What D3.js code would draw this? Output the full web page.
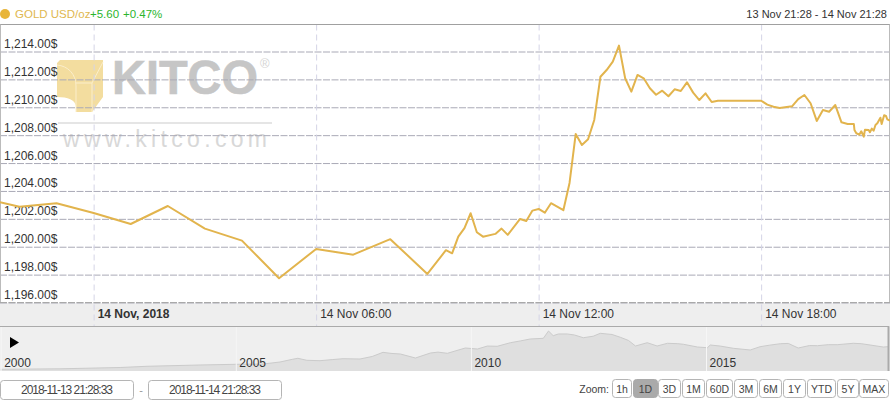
<!DOCTYPE html>
<html>
<head>
<meta charset="utf-8">
<script src="https://cdn.jsdelivr.net/npm/d3@7/dist/d3.min.js"></script>
<style>
html,body{margin:0;padding:0;background:#fff;overflow:hidden}
svg{display:block;font-family:"Liberation Sans",Arial,sans-serif}
</style>
</head>
<body>
<div id="chart"></div>
<script>
// Main series: minutes relative to 14 Nov 00:00, and USD/oz
const minutes = [-151.5,-120,-60,0,60,120,180,240,300,360,420,480,540,570,580,590,600,610,620,630,650,660,670,690,700,710,720,730,740,760,770,780,790,800,810,820,830,840,850,860,870,880,890,900,910,920,930,940,950,960,970,980,990,1000,1010,1080,1090,1100,1110,1130,1140,1150,1160,1170,1180,1190,1200,1210,1220,1230,1231,1234,1239,1242,1246,1248,1254,1256,1259,1262,1265,1268,1273,1275,1279,1282,1284,1288.5];
const prices = [1203.19,1202.87,1203.12,1202.42,1201.63,1202.92,1201.30,1200.44,1197.74,1199.84,1199.43,1200.54,1198.05,1199.75,1199.53,1200.72,1201.33,1202.40,1201.04,1200.72,1200.92,1201.30,1200.85,1201.99,1201.85,1202.59,1202.71,1202.44,1203.12,1202.62,1204.57,1208.09,1207.30,1207.71,1209.09,1212.19,1212.67,1213.27,1214.42,1212.08,1211.12,1212.32,1212.08,1211.36,1210.90,1211.19,1210.79,1211.29,1211.17,1211.79,1211.05,1210.52,1211.00,1210.38,1210.47,1210.47,1210.19,1210.04,1209.95,1210.07,1210.59,1210.88,1210.29,1209.02,1209.81,1209.68,1210.16,1208.92,1208.80,1208.80,1208.37,1208.14,1208.04,1208.28,1207.89,1208.39,1208.37,1208.21,1208.47,1208.32,1208.73,1208.85,1209.25,1208.80,1209.43,1209.38,1209.14,1209.04];
const priceTicks = [1196,1198,1200,1202,1204,1206,1208,1210,1212,1214];
const timeTicks = [0,360,720,1080];
const timeLabels = ["14 Nov, 2018","14 Nov 06:00","14 Nov 12:00","14 Nov 18:00"];

// Navigator series: decimal year and USD/oz
const navYears = [2000,2001.26,2002.54,2003.11,2004.24,2005,2005.58,2005.94,2006.2,2006.32,2006.51,2006.79,2007.05,2007.28,2007.64,2007.9,2008.13,2008.3,2008.5,2008.82,2009.14,2009.3,2009.5,2009.88,2010.14,2010.35,2010.56,2010.84,2011.05,2011.26,2011.54,2011.65,2011.75,2011.86,2012.05,2012.2,2012.39,2012.6,2012.75,2013.0,2013.18,2013.35,2013.5,2013.75,2013.96,2014.18,2014.4,2014.52,2014.82,2015.03,2015.09,2015.3,2015.58,2015.94,2016.15,2016.35,2016.58,2016.75,2016.96,2017.2,2017.37,2017.6,2017.79,2018.13,2018.3,2018.49,2018.77,2018.87];
const navPrices = [260,280,332,381,433,461,473,553,660,702,622,606,650,686,674,775,943,900,875,714,915,950,903,1116,1076,1195,1185,1329,1400,1478,1506,1800,1611,1680,1680,1640,1530,1590,1707,1660,1546,1420,1197,1329,1197,1305,1290,1265,1156,1128,1237,1195,1104,1036,1169,1230,1289,1300,1116,1215,1209,1250,1249,1305,1290,1237,1156,1169];
const navTicks = [2000,2005,2010,2015];

const rangeButtons = ["1h","1D","3D","1M","60D","3M","6M","1Y","YTD","5Y","MAX"];
const rangeEdges = [[612,631],[633,657],[658,680],[682,704],[706,732],[734,757],[759,781],[783,805],[807,835],[837,858],[859,888]];
const activeRange = "1D";
const dateInputs = ["2018-11-13 21:28:33","2018-11-14 21:28:33"];

const W = 890, H = 400;
const base = Date.UTC(2018,10,14);
const toDate = m => new Date(base + m*60000);
const x = d3.scaleUtc().domain([toDate(-151.5),toDate(1288.5)]).range([0,W]);
const y = d3.scaleLinear().domain([1196,1214]).range([302.5,51.5]);
const navX = d3.scaleLinear().domain([2000,2018.87]).range([0.7,888]);
const navY = d3.scaleLinear().domain([260,1800]).range([369.3,331]);

const svg = d3.select("#chart").append("svg").attr("width",W).attr("height",H);

// Axis and navigator bands
svg.append("rect").attr("x",0).attr("y",303).attr("width",W).attr("height",23).attr("fill","#eeeeee");
svg.append("rect").attr("x",0).attr("y",327).attr("width",W).attr("height",44).attr("fill","#efefef");

// Watermark
const wm = svg.append("g");
wm.append("path").attr("d","M60,60 L103,60 L103,97 L92,112 L76,112 L76,106 C75,100 68,97 57,97 L57,63 Z").attr("fill","#f3dd9f");
wm.append("path").attr("d","M57,65 C68,66 76,74 76,86 L76,112 M76,83 L92,83 L92,112 M92,83 L103,62").attr("fill","none").attr("stroke","#fbeecb").attr("stroke-width",1);
wm.append("text").attr("x",112).attr("y",94).attr("font-size",48).attr("font-weight","bold").attr("fill","#c6c6c6").attr("stroke","#c6c6c6").attr("stroke-width",0.6).attr("textLength",146).attr("lengthAdjust","spacingAndGlyphs").text("KITCO");
wm.append("text").attr("x",260).attr("y",68).attr("font-size",13).attr("fill","#d4d4d4").text("®");
wm.append("line").attr("x1",58).attr("x2",272).attr("y1",123).attr("y2",123).attr("stroke","#dcdcdc").attr("stroke-width",1.5);
wm.append("text").attr("x",63).attr("y",147).attr("font-size",23).attr("fill","#d8d8d8").attr("textLength",204).text("www.kitco.com");

// Horizontal grid with inside labels
const yAxis = d3.axisRight(y).tickValues(priceTicks).tickSize(W).tickFormat(d => d3.format(",.2f")(d)+"$");
const gy = svg.append("g").call(yAxis);
gy.select(".domain").remove();
gy.selectAll("line").attr("stroke","#a9a9b6").attr("stroke-dasharray","7,1.5").attr("stroke-width",1);
gy.selectAll("text").attr("x",4).attr("dy",0).attr("y",-4).attr("font-size",12).attr("fill","#333").attr("font-family","Liberation Sans, Arial, sans-serif");

// Vertical grid and time labels
const xAxis = d3.axisBottom(x).tickValues(timeTicks.map(toDate)).tickSize(0).tickFormat((d,i)=>timeLabels[i]);
const gx = svg.append("g").attr("transform","translate(0,0)").call(xAxis);
gx.select(".domain").remove();
gx.selectAll("line").attr("y1",24.5).attr("y2",326).attr("stroke","#d4d4e6").attr("stroke-dasharray","6,4").attr("stroke-width",1);
gx.selectAll("text").attr("x",3.5).attr("y",318).attr("dy",0).attr("text-anchor","start").attr("font-size",12).attr("fill","#333")
  .attr("font-family","Liberation Sans, Arial, sans-serif").attr("font-weight",(d,i)=>i===0?"bold":"normal");

// Frame lines
svg.append("line").attr("x1",0).attr("x2",W).attr("y1",24.5).attr("y2",24.5).attr("stroke","#a0a0a0");
svg.append("line").attr("x1",0.5).attr("x2",0.5).attr("y1",24.5).attr("y2",303).attr("stroke","#bbb");
svg.append("line").attr("x1",889.5).attr("x2",889.5).attr("y1",24.5).attr("y2",303).attr("stroke","#bbb");
svg.append("line").attr("x1",0).attr("x2",W).attr("y1",302.5).attr("y2",302.5).attr("stroke","#a9a9a9").attr("stroke-dasharray","7,1.5");
svg.append("line").attr("x1",0).attr("x2",889).attr("y1",326.5).attr("y2",326.5).attr("stroke","#aaa").attr("stroke-width",1);

// Main line
const line = d3.line().x((d,i)=>x(toDate(minutes[i]))).y(d=>y(d));
svg.append("path").datum(prices).attr("d",line).attr("fill","none").attr("stroke","#e2b44d").attr("stroke-width",2).attr("stroke-linejoin","round");

// Navigator
const navArea = d3.area().x((d,i)=>navX(navYears[i])).y0(371).y1(d=>navY(d));
const navLine = d3.line().x((d,i)=>navX(navYears[i])).y(d=>navY(d));
svg.append("path").datum(navPrices).attr("d",navArea).attr("fill","#dfdfdf");
svg.append("path").datum(navPrices).attr("d",navLine).attr("fill","none").attr("stroke","#cbcbcb").attr("stroke-width",1);
const gn = svg.append("g").attr("transform","translate(0,327)").call(d3.axisBottom(navX).tickValues(navTicks).tickSize(44).tickFormat(d3.format("d")));
gn.select(".domain").remove();
gn.selectAll("line").attr("stroke","#f6f6f6").attr("stroke-width",1);
gn.selectAll("text").attr("x",3).attr("y",40).attr("dy",0).attr("text-anchor","start").attr("font-size",12).attr("fill","#333").attr("font-family","Liberation Sans, Arial, sans-serif");
svg.append("line").attr("x1",888.5).attr("x2",888.5).attr("y1",326).attr("y2",371).attr("stroke","#aaa").attr("stroke-width",2);
svg.append("path").attr("d","M10,337 L19,342.5 L10,348 Z").attr("fill","#000");

// Header
svg.append("circle").attr("cx",5).attr("cy",14).attr("r",5).attr("fill","#e8b53a");
svg.append("text").attr("x",15).attr("y",18).attr("font-size",11.5).attr("fill","#e0b850").text("GOLD USD/oz");
svg.append("text").attr("x",90).attr("y",18).attr("font-size",11.5).attr("fill","#2cb52c").text("+5.60");
svg.append("text").attr("x",123).attr("y",18).attr("font-size",11.5).attr("fill","#2cb52c").text("+0.47%");
svg.append("text").attr("x",887).attr("y",18).attr("text-anchor","end").attr("font-size",11).attr("fill","#333").text("13 Nov 21:28 - 14 Nov 21:28");

// Date inputs
const inputs = svg.append("g").selectAll("g").data(dateInputs).join("g").attr("transform",(d,i)=>`translate(${i===0?0.5:148.5},380.5)`);
inputs.append("rect").attr("width",133).attr("height",19).attr("rx",3).attr("fill","#fff").attr("stroke","#b5b5b5");
inputs.append("text").attr("x",66.5).attr("y",13.5).attr("text-anchor","middle").attr("font-size",12).attr("fill","#444").attr("textLength",92).text(d=>d);
svg.append("text").attr("x",141).attr("y",394).attr("text-anchor","middle").attr("font-size",11).attr("fill","#999").text("-");

// Range buttons
svg.append("text").attr("x",609).attr("y",393).attr("text-anchor","end").attr("font-size",10.5).attr("fill","#444").text("Zoom:");
const btn = svg.append("g").selectAll("g").data(rangeButtons).join("g").attr("transform",(d,i)=>`translate(${rangeEdges[i][0]+0.5},379.5)`);
btn.append("rect").attr("width",(d,i)=>rangeEdges[i][1]-rangeEdges[i][0]).attr("height",18).attr("rx",3)
  .attr("fill",d=>d===activeRange?"#aaaaaa":"#fff").attr("stroke",d=>d===activeRange?"#aaaaaa":"#b5b5b5");
btn.append("text").attr("x",(d,i)=>(rangeEdges[i][1]-rangeEdges[i][0])/2).attr("y",13).attr("text-anchor","middle").attr("font-size",10.5).attr("fill","#444").text(d=>d);
</script>
</body>
</html>
